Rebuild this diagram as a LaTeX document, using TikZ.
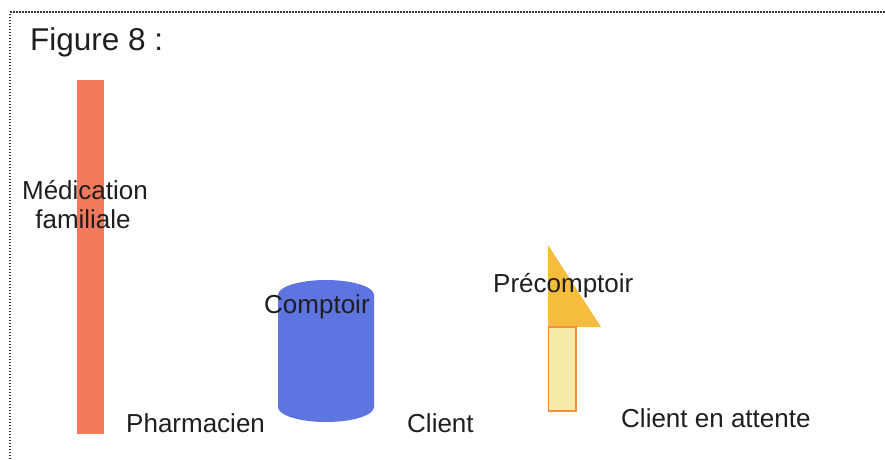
\documentclass[tikz,border=0pt]{standalone}
\usepackage{fontspec}
\setmainfont{Liberation Sans}
\definecolor{barred}{HTML}{F27A5C}
\definecolor{cylblue}{HTML}{5E74E0}
\definecolor{arrowtri}{HTML}{F6BC3E}
\definecolor{arrowbody}{HTML}{F7EAA6}
\definecolor{arrowedge}{HTML}{F0913E}
\definecolor{txt}{HTML}{1E1E1E}
\begin{document}
\begin{tikzpicture}[x=1pt,y=-1pt,
  lbl/.style={anchor=base west,inner sep=0pt,text=txt,font=\fontsize{26}{29}\selectfont},
  frame/.style={draw=black!80,line width=2pt,dash pattern=on 1.5pt off 1.5pt}]
\useasboundingbox (0,0) rectangle (885,459);
% frame
\coordinate (fbl) at (10,459);
\coordinate (ftl) at (10,12);
\coordinate (ftr) at (885,12);
\draw[frame] (fbl) -- (ftl) -- (ftr);
% title
\node[lbl,font=\fontsize{31.5}{36}\selectfont] (title) at (30,50) {Figure 8 :};
% red bar
\fill[barred] (77,80) rectangle (104,434);
% cylinder
\fill[cylblue] (278,295) arc[start angle=180,end angle=360,x radius=48,y radius=15]
  -- (374,407) arc[start angle=0,end angle=-180,x radius=48,y radius=-15] -- cycle;
% arrow
\fill[arrowtri] (548,245) -- (601,327) -- (548,327) -- cycle;
\draw[fill=arrowbody,draw=arrowedge,line width=1.2pt] (548.6,327) rectangle (576,411);
% labels
\node[lbl,anchor=base] (med1) at (85,199) {Médication};
\node[lbl,anchor=base] (med2) at (83,228) {familiale};
\node[lbl] (comptoir) at (264,313) {Comptoir};
\node[lbl] (precomptoir) at (493,292) {Précomptoir};
\node[lbl] (pharmacien) at (126,432) {Pharmacien};
\node[lbl] (client) at (407,432) {Client};
\node[lbl] (attente) at (621,427) {Client en attente};
\end{tikzpicture}
\end{document}
